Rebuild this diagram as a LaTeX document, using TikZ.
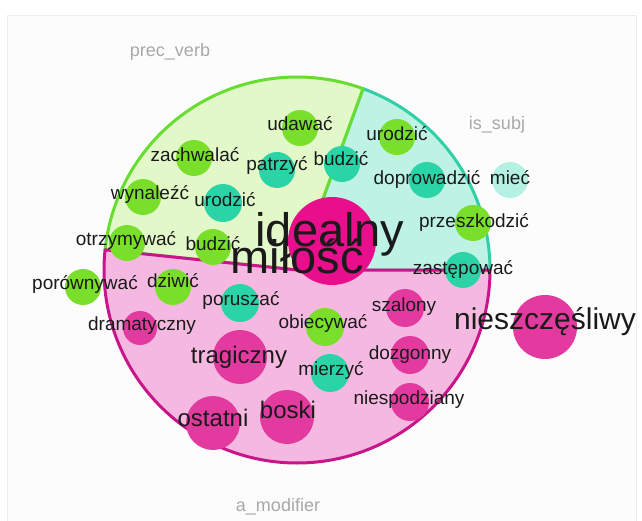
\documentclass[tikz,border=0pt]{standalone}
\usepackage{fontspec}
\setmainfont{Liberation Sans}
\definecolor{gnode}{HTML}{7ADF2A}
\definecolor{tnode}{HTML}{2BD4A6}
\definecolor{pnode}{HTML}{E23A9F}
\definecolor{mnode}{HTML}{E80E8C}
\definecolor{lnode}{HTML}{B5F1E3}
\definecolor{gfill}{HTML}{E3F8C9}
\definecolor{gline}{HTML}{66DD30}
\definecolor{cfill}{HTML}{BDF2E5}
\definecolor{cline}{HTML}{30CFA6}
\definecolor{pfill}{HTML}{F5B9E1}
\definecolor{pline}{HTML}{C8168A}
\definecolor{lbl}{HTML}{A8A8A8}
\definecolor{txt}{HTML}{1A1A1A}
\begin{document}
\begin{tikzpicture}[x=1pt,y=-1pt,
  dot/.style={circle, inner sep=0pt, draw=none},
  gdot/.style={dot, fill=gnode, minimum size=36pt},
  tdot/.style={dot, fill=tnode, minimum size=36pt},
  pdot/.style={dot, fill=pnode, minimum size=36pt},
  w/.style={anchor=mid, text=txt, inner sep=0pt, font=\fontsize{19}{19}\selectfont},
  wm/.style={w, font=\fontsize{24}{24}\selectfont},
  wl/.style={w, font=\fontsize{30}{30}\selectfont},
  wxl/.style={w, font=\fontsize{47}{47}\selectfont},
  region/.style={anchor=mid, text=lbl, inner sep=0pt, font=\fontsize{18}{18}\selectfont},
  sector/.style={line width=3pt, line join=round}]
\useasboundingbox (0,0) rectangle (642,521);
\fill[white] (0,0) rectangle (642,521);
\draw[black!7, fill=black!1] (7,15) rectangle (636,530);

% sectors
\coordinate (C) at (297,270);
\filldraw[sector, fill=cfill, draw=cline] (C) -- ++(290:193) arc[start angle=290, end angle=360, radius=193] -- cycle;
\filldraw[sector, fill=gfill, draw=gline] (C) -- ++(186:193) arc[start angle=186, end angle=290, radius=193] -- cycle;
\filldraw[sector, fill=pfill, draw=pline] (C) -- ++(0:193) arc[start angle=0, end angle=186, radius=193] -- cycle;

% region labels
\node[region] (rprec) at (170,54) {prec\_verb};
\node[region] (rsubj) at (497,127) {is\_subj};
\node[region] (rmod) at (278,509) {a\_modifier};

% circles
\node[gdot] (c1) at (300,128) {};
\node[gdot] (c2) at (194,158) {};
\node[tdot] (c3) at (277,170) {};
\node[tdot] (c4) at (342,164) {};
\node[gdot] (c5) at (143,197) {};
\node[tdot, minimum size=38pt] (c6) at (223,203) {};
\node[gdot] (c7) at (127,243) {};
\node[gdot] (c8) at (213,247) {};
\node[gdot] (c9) at (83,287) {};
\node[gdot] (c10) at (173,287) {};
\node[tdot, minimum size=38pt] (c11) at (240,303) {};
\node[pdot, minimum size=34pt] (c12) at (140,328) {};
\node[pdot, minimum size=54pt] (c13) at (240,357) {};
\node[pdot, minimum size=54pt] (c14) at (213,423) {};
\node[pdot, minimum size=54pt] (c15) at (287,417) {};
\node[gdot, minimum size=38pt] (c16) at (325,327) {};
\node[tdot, minimum size=38pt] (c17) at (330,373) {};
\node[pdot, minimum size=38pt] (c18) at (405,308) {};
\node[pdot, minimum size=38pt] (c19) at (410,355) {};
\node[pdot, minimum size=38pt] (c20) at (410,402) {};
\node[pdot, minimum size=64pt] (c21) at (545,327) {};
\node[tdot] (c22) at (463,270) {};
\node[gdot] (c23) at (473,223) {};
\node[dot, fill=lnode, minimum size=36pt] (c24) at (510,180) {};
\node[tdot] (c25) at (427,180) {};
\node[gdot] (c26) at (397,137) {};
\node[dot, fill=mnode, minimum size=88pt] (c27) at (332,241) {};

% labels
\node[w] (t1) at (300,128) {udawać};
\node[w] (t2) at (195,159) {zachwalać};
\node[w] (t3) at (277,168) {patrzyć};
\node[w] (t4) at (341,163) {budzić};
\node[w] (t5) at (150,197) {wynaleźć};
\node[w] (t6) at (225,204) {urodzić};
\node[w] (t7) at (126,243) {otrzymywać};
\node[w] (t8) at (213,248) {budzić};
\node[w] (t9) at (85,287) {porównywać};
\node[w] (t10) at (173,285) {dziwić};
\node[w] (t11) at (241,303) {poruszać};
\node[w] (t12) at (142,328) {dramatyczny};
\node[wm] (t13) at (239,361) {tragiczny};
\node[wm] (t14) at (213,424) {ostatni};
\node[wm] (t15) at (288,416) {boski};
\node[w] (t16) at (323,326) {obiecywać};
\node[w] (t17) at (331,373) {mierzyć};
\node[w] (t18) at (404,309) {szalony};
\node[w] (t19) at (410,357) {dozgonny};
\node[w] (t20) at (409,402) {niespodziany};
\node[wl] (t21) at (545,327) {nieszczęśliwy};
\node[w] (t22) at (463,272) {zastępować};
\node[w] (t23) at (474,225) {przeszkodzić};
\node[w] (t24) at (510,182) {mieć};
\node[w] (t25) at (427,182) {doprowadzić};
\node[w] (t26) at (397,138) {urodzić};
\node[wxl] (t27) at (330,244) {idealny};
\node[wxl] (t28) at (297,271) {miłość};
\end{tikzpicture}
\end{document}
